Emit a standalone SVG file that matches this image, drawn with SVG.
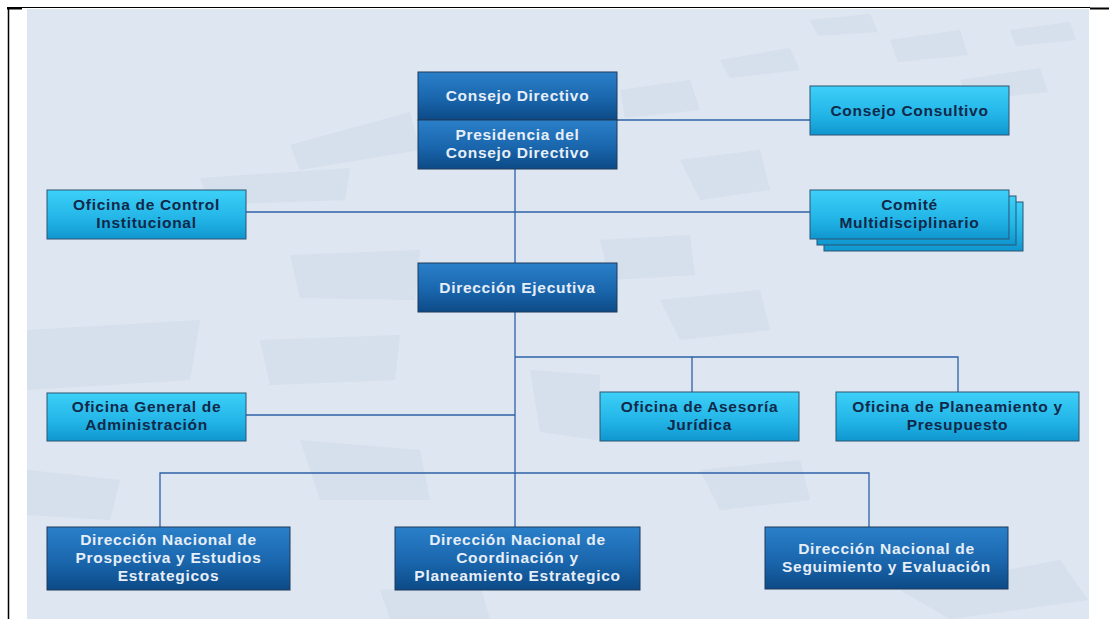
<svg xmlns="http://www.w3.org/2000/svg" width="1109" height="619" viewBox="0 0 1109 619">
<defs>
<linearGradient id="gDark" x1="0" y1="0" x2="0" y2="1">
<stop offset="0" stop-color="#2a80c9"/>
<stop offset="0.55" stop-color="#1a66ad"/>
<stop offset="1" stop-color="#0c4a86"/>
</linearGradient>
<linearGradient id="gLight" x1="0" y1="0" x2="0" y2="1">
<stop offset="0" stop-color="#3dd0f8"/>
<stop offset="0.6" stop-color="#22b4e6"/>
<stop offset="1" stop-color="#0f96cf"/>
</linearGradient>
<style>
.dark{fill:url(#gDark);stroke:#1c3a5c;stroke-width:1}
.light{fill:url(#gLight);stroke:#2b5572;stroke-width:1}
.td{font-family:"Liberation Sans",Arial,sans-serif;font-weight:bold;font-size:15.5px;fill:#e6eef8;text-anchor:middle;letter-spacing:0.7px}
.tl{font-family:"Liberation Sans",Arial,sans-serif;font-weight:bold;font-size:15.5px;fill:#10294a;text-anchor:middle;letter-spacing:0.7px}
.con{stroke:#2e62a6;stroke-width:1.3;fill:none}
.wm{fill:#cdd8e8;opacity:0.5}
</style>
</defs>
<rect x="0" y="0" width="1109" height="619" fill="#ffffff"/>
<rect x="27" y="9" width="1062" height="610" fill="#dee6f1"/>
<g id="watermark">
<polygon class="wm" points="290,145 410,112 420,150 300,170"/>
<polygon class="wm" points="200,178 350,168 345,200 210,205"/>
<polygon class="wm" points="290,255 420,250 415,300 300,298"/>
<polygon class="wm" points="27,330 200,320 190,380 27,390"/>
<polygon class="wm" points="260,340 400,335 395,380 270,385"/>
<polygon class="wm" points="530,370 600,375 598,440 540,432"/>
<polygon class="wm" points="620,90 690,80 700,110 625,118"/>
<polygon class="wm" points="720,60 790,48 800,70 730,78"/>
<polygon class="wm" points="810,20 870,14 878,32 818,36"/>
<polygon class="wm" points="890,40 960,30 968,55 898,62"/>
<polygon class="wm" points="960,80 1040,68 1048,92 970,100"/>
<polygon class="wm" points="1010,30 1070,22 1076,40 1016,46"/>
<polygon class="wm" points="680,160 760,150 770,190 700,200"/>
<polygon class="wm" points="600,240 690,235 695,275 610,280"/>
<polygon class="wm" points="660,300 760,290 770,330 680,340"/>
<polygon class="wm" points="300,440 420,450 430,500 320,500"/>
<polygon class="wm" points="700,470 800,460 810,500 720,510"/>
<polygon class="wm" points="27,470 120,480 110,520 27,515"/>
<polygon class="wm" points="900,590 1060,560 1088,600 950,619"/>
<polygon class="wm" points="380,590 480,585 490,619 390,619"/>
</g>
<g id="frame" stroke="#000000" fill="none">
<line x1="7" y1="7.5" x2="1090" y2="7.5" stroke-width="1.2"/>
<line x1="8.5" y1="7" x2="8.5" y2="619" stroke-width="1.5"/>
<line x1="7" y1="8.5" x2="22" y2="8.5" stroke-width="2"/>
<line x1="1090" y1="8.5" x2="1109" y2="8.5" stroke-width="2"/>
</g>
<g id="connectors">
<line class="con" x1="617" y1="120" x2="810" y2="120"/>
<line class="con" x1="515" y1="169" x2="515" y2="263"/>
<line class="con" x1="246" y1="212" x2="810" y2="212"/>
<line class="con" x1="515" y1="312" x2="515" y2="527"/>
<polyline class="con" points="692,392 692,357 958,357 958,392"/>
<line class="con" x1="515" y1="357" x2="692" y2="357"/>
<line class="con" x1="246" y1="415" x2="515" y2="415"/>
<polyline class="con" points="160,527 160,473 869,473 869,527"/>
</g>
<g id="consejo-directivo">
<rect class="dark" x="418" y="72" width="199" height="48"/>
<text class="td" x="517.5" y="101">Consejo Directivo</text>
</g>
<g id="presidencia">
<rect class="dark" x="418" y="120" width="199" height="49"/>
<text class="td" x="517.5" y="140">Presidencia del</text>
<text class="td" x="517.5" y="158">Consejo Directivo</text>
</g>
<g id="consejo-consultivo">
<rect class="light" x="810" y="86" width="199" height="49"/>
<text class="tl" x="909.5" y="115.5">Consejo Consultivo</text>
</g>
<g id="oficina-control">
<rect class="light" x="47" y="190" width="199" height="49"/>
<text class="tl" x="146.5" y="210">Oficina de Control</text>
<text class="tl" x="146.5" y="228">Institucional</text>
</g>
<g id="comite">
<rect class="light" x="824" y="202" width="199" height="49"/>
<rect class="light" x="817" y="196" width="199" height="49"/>
<rect class="light" x="810" y="190" width="199" height="49"/>
<text class="tl" x="909.5" y="210">Comité</text>
<text class="tl" x="909.5" y="228">Multidisciplinario</text>
</g>
<g id="direccion-ejecutiva">
<rect class="dark" x="418" y="263" width="199" height="49"/>
<text class="td" x="517.5" y="292.5">Dirección Ejecutiva</text>
</g>
<g id="oficina-general">
<rect class="light" x="47" y="393" width="199" height="48"/>
<text class="tl" x="146.5" y="412">Oficina General de</text>
<text class="tl" x="146.5" y="430">Administración</text>
</g>
<g id="oficina-asesoria">
<rect class="light" x="600" y="392" width="199" height="49"/>
<text class="tl" x="699.5" y="412">Oficina de Asesoría</text>
<text class="tl" x="699.5" y="430">Jurídica</text>
</g>
<g id="oficina-planeamiento">
<rect class="light" x="836" y="392" width="243" height="49"/>
<text class="tl" x="957.5" y="412">Oficina de Planeamiento y</text>
<text class="tl" x="957.5" y="430">Presupuesto</text>
</g>
<g id="dn-prospectiva">
<rect class="dark" x="47" y="527" width="243" height="63"/>
<text class="td" x="168.5" y="545">Dirección Nacional de</text>
<text class="td" x="168.5" y="563">Prospectiva y Estudios</text>
<text class="td" x="168.5" y="581">Estrategicos</text>
</g>
<g id="dn-coordinacion">
<rect class="dark" x="395" y="527" width="245" height="63"/>
<text class="td" x="517.5" y="545">Dirección Nacional de</text>
<text class="td" x="517.5" y="563">Coordinación y</text>
<text class="td" x="517.5" y="581">Planeamiento Estrategico</text>
</g>
<g id="dn-seguimiento">
<rect class="dark" x="765" y="527" width="243" height="62"/>
<text class="td" x="886.5" y="554">Dirección Nacional de</text>
<text class="td" x="886.5" y="572">Seguimiento y Evaluación</text>
</g>
</svg>
